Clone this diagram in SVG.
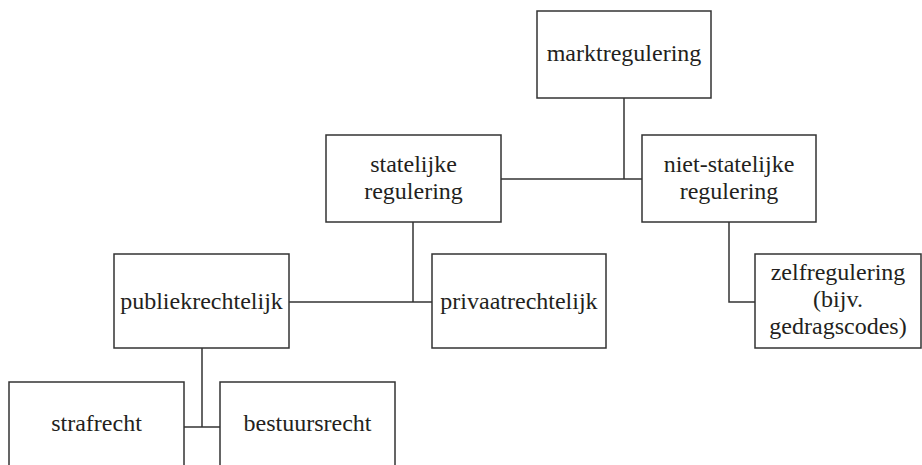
<svg xmlns="http://www.w3.org/2000/svg" width="922" height="465" viewBox="0 0 922 465">
<style>
.box{fill:#fff;stroke:#333;stroke-width:1.5}
.t{font-family:"Liberation Serif","Times New Roman",serif;font-size:24px;fill:#231f20;text-anchor:middle}
.c{fill:none;stroke:#333;stroke-width:1.5}
</style>
<rect width="922" height="465" fill="#fff"/>
<g id="connectors">
<path class="c" d="M624,98 V179"/>
<path class="c" d="M501,179 H642"/>
<path class="c" d="M413,222 V302"/>
<path class="c" d="M289,302 H432"/>
<path class="c" d="M202,348 V427"/>
<path class="c" d="M184,427 H220"/>
<path class="c" d="M729,222 V302 H755"/>
</g>
<g id="marktregulering">
<rect class="box" x="537" y="11" width="174" height="87"/>
<text class="t" x="624" y="61">marktregulering</text>
</g>
<g id="statelijke">
<rect class="box" x="326" y="135" width="175" height="87"/>
<text class="t" x="413.5" y="172">statelijke</text>
<text class="t" x="413.5" y="199">regulering</text>
</g>
<g id="niet-statelijke">
<rect class="box" x="642" y="135" width="174" height="87"/>
<text class="t" x="729" y="172">niet-statelijke</text>
<text class="t" x="729" y="199">regulering</text>
</g>
<g id="publiekrechtelijk">
<rect class="box" x="114" y="254" width="175" height="94"/>
<text class="t" x="201.5" y="309">publiekrechtelijk</text>
</g>
<g id="privaatrechtelijk">
<rect class="box" x="432" y="254" width="174" height="94"/>
<text class="t" x="519" y="309">privaatrechtelijk</text>
</g>
<g id="zelfregulering">
<rect class="box" x="755" y="254" width="166" height="94"/>
<text class="t" x="838" y="280">zelfregulering</text>
<text class="t" x="838" y="307">(bijv.</text>
<text class="t" x="838" y="334">gedragscodes)</text>
</g>
<g id="strafrecht">
<rect class="box" x="9" y="382" width="175" height="100"/>
<text class="t" x="96.5" y="431">strafrecht</text>
</g>
<g id="bestuursrecht">
<rect class="box" x="220" y="382" width="175" height="100"/>
<text class="t" x="307.5" y="431">bestuursrecht</text>
</g>
</svg>
